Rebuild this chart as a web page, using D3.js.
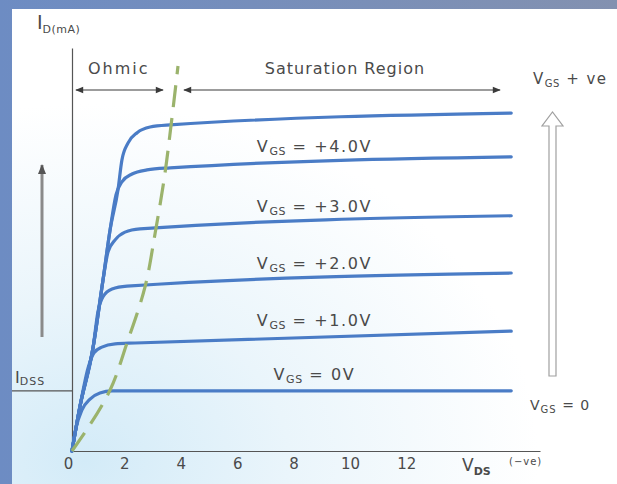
<!DOCTYPE html>
<html>
<head>
<meta charset="utf-8">
<script src="https://cdn.jsdelivr.net/npm/d3@7"></script>
<style>
  html, body { margin: 0; padding: 0; background: #7a90bd; }
  svg { display: block; }
  text { font-family: "DejaVu Sans", Verdana, sans-serif; fill: #4a4a4a; }
</style>
</head>
<body>
<svg id="chart" width="617" height="484"></svg>
<script>
// Drain characteristics: drain current ID (mA) against drain-source voltage VDS
const vdsTicks = [0, 2, 4, 6, 8, 10, 12];

// [VDS, ID] points for each gate-source voltage curve
const vgs0 = [[0,0],[0.14,0.56],[0.35,1.0],[0.64,1.27],[0.99,1.42],[1.42,1.47],[15.58,1.47]];
const vgs1 = [[0,0],[0.28,1.08],[0.57,2.03],[0.78,2.40],[1.06,2.54],[1.53,2.62],[2.24,2.64],[15.58,2.93]];
const vgs2 = [[0,0],[0.28,1.08],[0.75,2.54],[0.92,3.40],[1.10,3.77],[1.42,3.96],[1.95,4.03],[15.58,4.35]];
const vgs3 = [[0,0],[0.28,1.08],[0.75,2.54],[1.10,4.18],[1.28,4.87],[1.53,5.16],[1.88,5.35],[2.41,5.43],[15.58,5.75]];
const vgs4 = [[0,0],[0.28,1.08],[0.75,2.54],[1.10,4.18],[1.35,5.40],[1.56,6.26],[1.77,6.58],[2.13,6.77],[2.66,6.87],[3.48,6.92],[15.58,7.19]];
const vgs5 = [[0,0],[0.28,1.08],[0.75,2.54],[1.10,4.18],[1.35,5.40],[1.63,6.38],[1.77,7.11],[1.99,7.53],[2.31,7.78],[2.77,7.92],[3.48,7.97],[15.58,8.26]];

// Pinch-off locus separating the ohmic and saturation regions
const pinchOff = [[0,0],[1.35,1.49],[1.95,2.64],[2.59,4.01],[2.95,5.33],[3.30,6.80],[3.52,8.0],[3.76,9.41]];

const curves = [vgs0, vgs1, vgs2, vgs3, vgs4, vgs5];
const curveLabels = ["0V", "+1.0V", "+2.0V", "+3.0V", "+4.0V"];
const idss = 1.47;

const svg = d3.select("#chart");
const W = 617, H = 484;

// Backdrop panel with a soft blue glow toward the lower left
const defs = svg.append("defs");
const bg = defs.append("linearGradient").attr("id", "frame")
  .attr("x1", 0).attr("y1", 0).attr("x2", 1).attr("y2", 0);
bg.append("stop").attr("offset", 0).attr("stop-color", "#6d8cc3");
bg.append("stop").attr("offset", 1).attr("stop-color", "#8391b0");
svg.append("rect").attr("width", W).attr("height", H).attr("fill", "url(#frame)");

const glow = defs.append("radialGradient").attr("id", "glow")
  .attr("cx", 0.12).attr("cy", 0.95).attr("r", 0.75);
glow.append("stop").attr("offset", 0).attr("stop-color", "#d3ebf8");
glow.append("stop").attr("offset", 0.45).attr("stop-color", "#eaf5fb");
glow.append("stop").attr("offset", 1).attr("stop-color", "#ffffff");
svg.append("rect").attr("x", 12).attr("y", 9).attr("width", W - 12).attr("height", H - 9)
  .attr("fill", "url(#glow)");

function marker(id, color, w, h) {
  defs.append("marker").attr("id", id)
    .attr("viewBox", "0 0 10 10").attr("refX", 9).attr("refY", 5)
    .attr("markerWidth", w).attr("markerHeight", h)
    .attr("markerUnits", "userSpaceOnUse")
    .attr("orient", "auto-start-reverse")
    .append("path").attr("d", "M0,1 L10,5 L0,9 Z").attr("fill", color);
}
marker("headDark", "#3a3a3a", 11, 8);
marker("headGray", "#555", 10, 12);

// Scales
const x = d3.scaleLinear().domain([0, 16.6]).range([72, 540]);
const y = d3.scaleLinear().domain([0, 9.85]).range([451, 48]);

// Axes
const xAxis = svg.append("g").attr("transform", `translate(0,${y(0)})`)
  .call(d3.axisBottom(x).tickValues(vdsTicks).tickSize(0).tickSizeOuter(0).tickPadding(7));
xAxis.select(".domain").attr("stroke", "#555").attr("stroke-width", 1.2);
xAxis.selectAll("text").attr("font-size", 15).attr("fill", "#4a4a4a").attr("dx", -4)
  .style("font-family", "DejaVu Sans, sans-serif");

const yAxis = svg.append("g").attr("transform", `translate(${x(0)},0)`)
  .call(d3.axisLeft(y).tickValues([]).tickSizeOuter(0));
yAxis.select(".domain").attr("stroke", "#555").attr("stroke-width", 1.2);

// IDSS reference line
svg.append("line").attr("x1", 12).attr("x2", x(0))
  .attr("y1", y(idss)).attr("y2", y(idss))
  .attr("stroke", "#555").attr("stroke-width", 1.2);
const idssText = svg.append("text").attr("x", 15).attr("y", y(idss) - 8).attr("font-size", 16);
idssText.append("tspan").text("I");
idssText.append("tspan").attr("font-size", 11).attr("dy", 2).attr("letter-spacing", 1).text("DSS");

// Axis titles
const idText = svg.append("text").attr("x", 37).attr("y", 29).attr("font-size", 19);
idText.append("tspan").text("I");
idText.append("tspan").attr("font-size", 11).attr("dy", 4).attr("letter-spacing", 0.5).text("D(mA)");

const vdsText = svg.append("text").attr("x", 462).attr("y", 471).attr("font-size", 17);
vdsText.append("tspan").text("V");
vdsText.append("tspan").attr("font-size", 11).attr("dy", 4).attr("font-weight", "bold").text("DS");
svg.append("text").attr("x", 509).attr("y", 465).attr("font-size", 10).attr("letter-spacing", 1).text("(−ve)");

// Characteristic curves
const line = d3.line().x(d => x(d[0])).y(d => y(d[1])).curve(d3.curveMonotoneX);
svg.append("g").selectAll("path").data(curves).join("path")
  .attr("d", line).attr("fill", "none")
  .attr("stroke", "#4a7cc6").attr("stroke-width", 3.2)
  .attr("stroke-linecap", "round").attr("stroke-linejoin", "round");

// Pinch-off boundary
svg.append("path").datum(pinchOff)
  .attr("d", d3.line().x(d => x(d[0])).y(d => y(d[1])).curve(d3.curveMonotoneY))
  .attr("fill", "none").attr("stroke", "#9bb36c").attr("stroke-width", 3.2)
  .attr("stroke-dasharray", "22,11");

// Curve labels placed just above each curve
const labelV = 8.6;
curveLabels.forEach((lab, i) => {
  const c = curves[i];
  const interp = d3.scaleLinear().domain(c.map(d => d[0])).range(c.map(d => d[1]));
  const t = svg.append("text").attr("x", x(labelV)).attr("y", y(interp(labelV)) - 11)
    .attr("text-anchor", "middle").attr("font-size", 16).attr("letter-spacing", 1.6);
  t.append("tspan").text("V");
  t.append("tspan").attr("font-size", 11).attr("dy", 3).attr("letter-spacing", 0.5).text("GS");
  t.append("tspan").attr("dy", -3).text(" = " + lab);
});

// Region annotations
svg.append("text").attr("x", 88).attr("y", 74).attr("font-size", 16)
  .attr("letter-spacing", 2).text("Ohmic");
svg.append("text").attr("x", 345).attr("y", 74).attr("font-size", 16)
  .attr("letter-spacing", 1).attr("text-anchor", "middle").text("Saturation Region");
svg.append("line").attr("x1", 76).attr("x2", 163).attr("y1", 90).attr("y2", 90)
  .attr("stroke", "#3a3a3a").attr("stroke-width", 1.2)
  .attr("marker-start", "url(#headDark)").attr("marker-end", "url(#headDark)");
svg.append("line").attr("x1", 184).attr("x2", 500).attr("y1", 90).attr("y2", 90)
  .attr("stroke", "#3a3a3a").attr("stroke-width", 1.2)
  .attr("marker-start", "url(#headDark)").attr("marker-end", "url(#headDark)");

// Increasing current arrow on the left
svg.append("line").attr("x1", 42).attr("x2", 42).attr("y1", 337).attr("y2", 165)
  .attr("stroke", "#8a8a8a").attr("stroke-width", 3)
  .attr("marker-end", "url(#headGray)");

// Hollow arrow showing rising gate voltage
svg.append("path")
  .attr("d", "M549,376 L549,126 L542,126 L552.5,112 L563,126 L556,126 L556,376 Z")
  .attr("fill", "#ffffff").attr("stroke", "#a0a0a0").attr("stroke-width", 1.2);

const vpos = svg.append("text").attr("x", 533).attr("y", 84).attr("font-size", 15).attr("letter-spacing", 1.5);
vpos.append("tspan").text("V");
vpos.append("tspan").attr("font-size", 10).attr("dy", 3).attr("letter-spacing", 0.5).text("GS");
vpos.append("tspan").attr("dy", -3).text(" + ve");

const vzero = svg.append("text").attr("x", 530).attr("y", 410).attr("font-size", 14).attr("letter-spacing", 1);
vzero.append("tspan").text("V");
vzero.append("tspan").attr("font-size", 10).attr("dy", 3).text("GS");
vzero.append("tspan").attr("dy", -3).text(" = 0");
</script>
</body>
</html>
